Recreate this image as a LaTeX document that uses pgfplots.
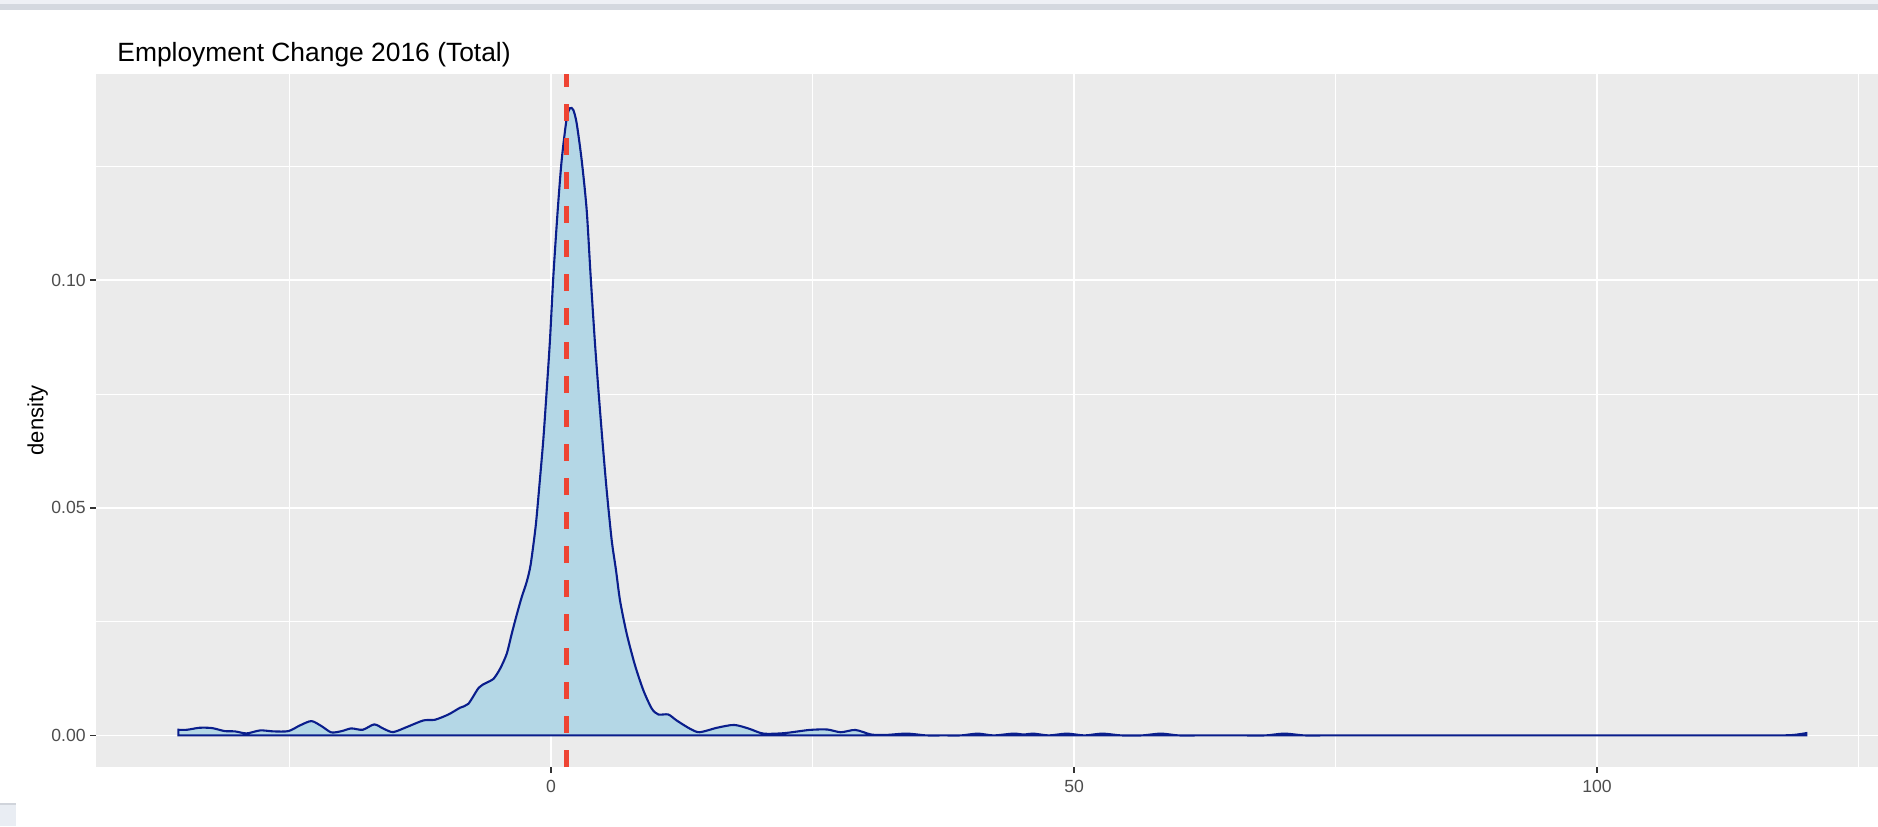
\documentclass[border=0pt]{standalone}
\usepackage{pgfplots}
\pgfplotsset{compat=1.18}
\usepackage{fontspec}
\setmainfont{Liberation Sans}
\definecolor{panelbg}{HTML}{EBEBEB}
\definecolor{fillblue}{HTML}{B4D7E6}
\definecolor{lineblue}{HTML}{0A1E8C}
\definecolor{vred}{HTML}{EE4433}
\definecolor{ticklab}{HTML}{4D4D4D}
\definecolor{tickcol}{HTML}{333333}
\definecolor{barlight}{HTML}{EEF0F5}
\definecolor{bardark}{HTML}{D4D8DF}
\definecolor{sqfill}{HTML}{E9EDF3}
\definecolor{sqline}{HTML}{D0D4DB}
\begin{document}
\begin{tikzpicture}
\path[use as bounding box] (0,0) rectangle (939pt,413pt);
\fill[barlight] (0,413pt) rectangle (939pt,411pt);
\fill[bardark] (0,411pt) rectangle (939pt,408.15pt);
\fill[sqfill] (0,0) rectangle (7.8pt,11pt);
\draw[sqline, line width=0.6pt] (0,11pt) -- (7.8pt,11pt);
\begin{axis}[
  at={(48pt,29.5pt)}, anchor=south west,
  width=891pt, height=346.5pt, scale only axis,
  xmin=-43.5, xmax=126.86, ymin=-0.00694, ymax=0.1453,
  axis background/.style={fill=panelbg},
  axis line style={draw=none},
  xtick={0,50,100}, xticklabels={0,50,100},
  minor xtick={-25,25,75,125},
  ytick={0,0.05,0.10}, yticklabels={0.00,0.05,0.10},
  minor ytick={0.025,0.075,0.125},
  grid=both,
  major grid style={white, line width=0.9pt},
  minor grid style={white, line width=0.45pt},
  tick align=outside, major tick length=2.75pt, minor tick length=0pt,
  tick style={tickcol, line width=0.8pt},
  xtick pos=bottom, ytick pos=left,
  ticklabel style={font=\fontsize{8.8}{10}\selectfont, text=ticklab},
  xticklabel style={inner sep=0pt, anchor=north, yshift=-3.5pt},
  yticklabel style={inner sep=0pt, anchor=east, xshift=-2.2pt},
  clip=true,
]
\addplot[fill=fillblue, draw=lineblue, line width=1.05pt, smooth, tension=0.45] coordinates {
(-35.63,0.00124) (-34.8,0.00124) (-33.6,0.00168) (-32.4,0.00161) (-31.2,0.00095)
(-30.2,0.00088) (-29.1,0.00044) (-27.8,0.0011) (-26.5,0.00088) (-25.1,0.00095)
(-24.0,0.0022) (-22.9,0.00315) (-21.9,0.00198) (-21.0,0.00066) (-20.0,0.00095)
(-19.1,0.00154) (-18.0,0.00124) (-16.9,0.00242) (-16.0,0.00146) (-15.1,0.00073)
(-13.8,0.00183) (-12.2,0.00329) (-11.1,0.00344) (-9.8,0.00461) (-8.7,0.00608)
(-7.9,0.00695) (-6.9,0.0105) (-6.15,0.0116) (-5.51,0.0124) (-4.88,0.0146)
(-4.24,0.0179) (-3.76,0.0223) (-3.28,0.0265) (-2.80,0.0304) (-2.33,0.0337)
(-1.95,0.0375) (-1.47,0.0459) (-1.15,0.0539) (-0.74,0.0649) (-0.41,0.0759)
(-0.10,0.0869) (0.22,0.1008) (0.64,0.1154) (1.02,0.1264) (1.5,0.1356)
(1.82,0.1378) (2.13,0.1374) (2.45,0.1345) (2.93,0.1264) (3.41,0.1154)
(3.79,0.1008) (4.18,0.0869) (4.53,0.0759) (4.91,0.0649) (5.32,0.0539)
(5.80,0.0429) (6.20,0.0365) (6.60,0.0296) (7.24,0.0223) (8.03,0.0154)
(8.83,0.0099) (9.63,0.0059) (10.26,0.0046) (11.21,0.0046) (12.0,0.0033)
(13.26,0.0015) (14.2,0.0007) (15.9,0.0017) (17.5,0.0023) (18.9,0.0015)
(20.3,0.0004) (22.3,0.0005) (24.7,0.0012) (26.4,0.0013) (27.7,0.0007)
(29.1,0.0012) (30.6,0.0002) (32.0,0.0001) (34.0,0.0004) (35.9,0)
(37.5,0) (39.2,0) (40.8,0.0004) (42.3,0) (44.2,0.0004) (45.2,0.0002) (46.1,0.0004)
(47.6,0) (49.3,0.0004) (51.0,0) (52.7,0.0004) (54.5,0) (56.5,0)
(58.3,0.0004) (60.0,0) (62.0,0) (64.0,0) (66.0,0) (68.3,0) (70.1,0.0004) (72.0,0)
(74,0) (76,0) (78,0) (80,0) (82,0) (84,0) (86,0) (88,0) (90,0) (92,0) (94,0)
(96,0) (98,0) (100,0) (102,0) (104,0) (106,0) (108,0) (110,0) (112,0) (114,0)
(116,0) (117.5,0) (118.8,0.0001) (120.0,0.0005)
} \closedcycle;
\addplot[vred, line width=2.3pt, dash pattern=on 8.5pt off 8.5pt] coordinates {(1.5,-0.00694) (1.5,0.1453)};
\end{axis}
\node[anchor=base west, inner sep=0pt, font=\fontsize{13.2}{15}\selectfont] at (58.5pt,382pt) {Employment Change 2016 (Total)};
\node[rotate=90, inner sep=0pt, font=\fontsize{11}{13}\selectfont] at (18.8pt,202.75pt) {density};
\end{tikzpicture}
\end{document}
